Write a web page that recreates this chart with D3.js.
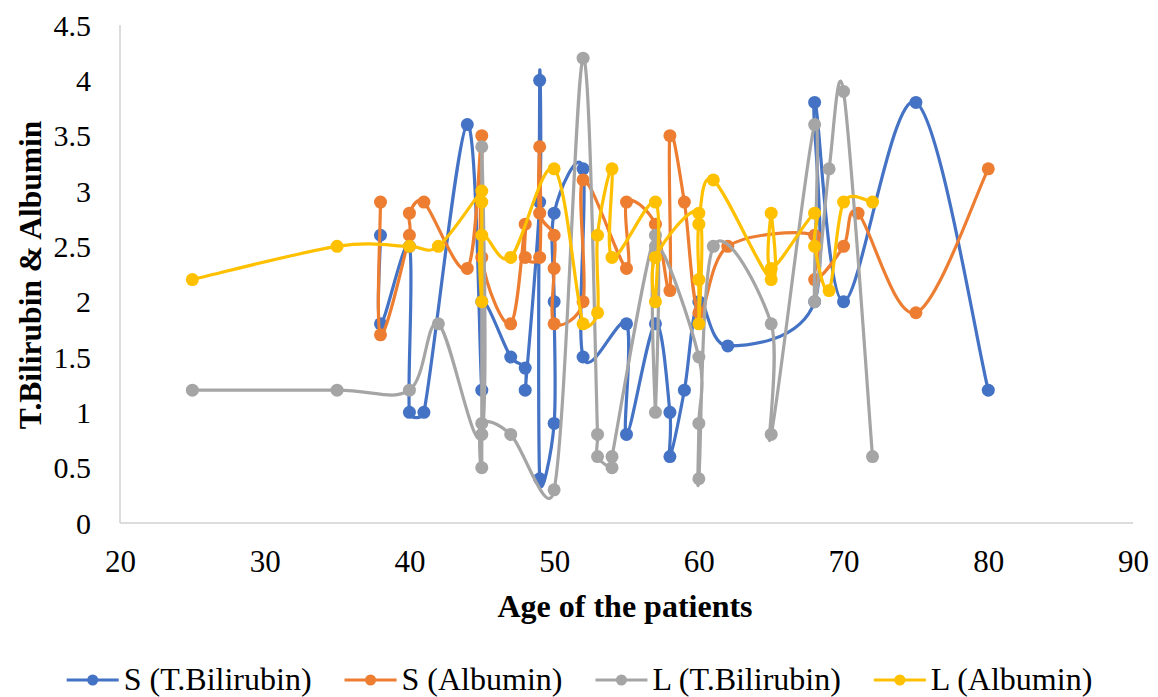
<!DOCTYPE html>
<html>
<head>
<meta charset="utf-8">
<script src="https://cdn.jsdelivr.net/npm/d3@7"></script>
<style>
  html, body { margin: 0; padding: 0; background: #fff; }
  svg { display: block; }
  text { font-family: "Liberation Serif", "Times New Roman", serif; fill: #000; }
</style>
</head>
<body>
<svg id="chart" width="1158" height="697"></svg>
<script>
// Ages and values for each series, in recorded order
const sBiliAge = [38,38,40,40,41,44,45,45,47,48,48,49,49,49,50,50,50,52,52,55,55,57,58,58,59,60,62,68,68,70,75,80];
const sBiliVal = [2.6,1.8,2.5,1.0,1.0,3.6,1.2,2.0,1.5,1.4,1.2,2.9,4.0,0.4,0.9,2.0,2.8,3.2,1.5,1.8,0.8,1.8,1.0,0.6,1.2,2.0,1.6,2.0,3.8,2.0,3.8,1.2];

const sAlbAge = [38,38,40,40,41,44,45,45,47,48,48,49,49,49,50,50,50,52,52,55,55,57,58,58,59,60,62,68,68,70,71,75,80];
const sAlbVal = [2.9,1.7,2.6,2.8,2.9,2.3,3.5,2.4,1.8,2.7,2.4,2.4,3.4,2.8,2.6,2.3,1.8,2.0,3.1,2.3,2.9,2.7,2.1,3.5,2.9,1.9,2.5,2.6,2.2,2.5,2.8,1.9,3.2];

const lBiliAge = [25,35,40,42,45,45,45,45,47,50,52,53,53,54,54,57,57,57,60,60,60,61,65,65,68,68,69,70,72];
const lBiliVal = [1.2,1.2,1.2,1.8,0.8,3.4,0.5,0.9,0.8,0.3,4.2,0.8,0.6,0.5,0.6,2.6,1.0,2.5,1.5,0.9,0.4,2.5,1.8,0.8,3.6,2.0,3.2,3.9,0.6];

const lAlbAge = [25,35,40,42,45,45,45,45,47,50,52,53,53,54,54,57,57,57,60,60,60,60,61,65,65,65,68,68,69,70,72];
const lAlbVal = [2.2,2.5,2.5,2.5,3.0,2.9,2.0,2.6,2.4,3.2,1.8,1.9,2.6,3.2,2.4,2.9,2.0,2.4,2.8,1.8,2.2,2.7,3.1,2.2,2.8,2.3,2.8,2.5,2.1,2.9,2.9];

const seriesNames = ["S (T.Bilirubin)", "S (Albumin)", "L (T.Bilirubin)", "L (Albumin)"];
const seriesColors = ["#4472C4", "#ED7D31", "#A5A5A5", "#FFC000"];
const xTicks = [20,30,40,50,60,70,80,90];
const yTicks = [0,0.5,1,1.5,2,2.5,3,3.5,4,4.5];

const series = [
  { name: seriesNames[0], color: seriesColors[0], pts: sBiliAge.map((a,i)=>[a, sBiliVal[i]]) },
  { name: seriesNames[1], color: seriesColors[1], pts: sAlbAge.map((a,i)=>[a, sAlbVal[i]]) },
  { name: seriesNames[2], color: seriesColors[2], pts: lBiliAge.map((a,i)=>[a, lBiliVal[i]]) },
  { name: seriesNames[3], color: seriesColors[3], pts: lAlbAge.map((a,i)=>[a, lAlbVal[i]]) }
];

// Smoothed spline: Bezier segments with 1/6 neighbour tangents,
// each handle limited to half the length of its own segment.
function SmoothCurve(context) { this._context = context; }
SmoothCurve.prototype = {
  areaStart() {}, areaEnd() {},
  lineStart() { this._p = []; },
  point(x, y) { this._p.push([+x, +y]); },
  lineEnd() {
    const p = this._p, n = p.length, c = this._context;
    if (!n) return;
    c.moveTo(p[0][0], p[0][1]);
    if (n === 1) return;
    const clamp = (v, maxLen) => {
      const l = Math.hypot(v[0], v[1]);
      if (l > maxLen && l > 0) { const k = maxLen / l; return [v[0] * k, v[1] * k]; }
      return v;
    };
    for (let i = 0; i < n - 1; i++) {
      const p0 = p[Math.max(i - 1, 0)], p1 = p[i], p2 = p[i + 1], p3 = p[Math.min(i + 2, n - 1)];
      const seg = Math.hypot(p2[0] - p1[0], p2[1] - p1[1]);
      const t1 = clamp([(p2[0] - p0[0]) / 6, (p2[1] - p0[1]) / 6], seg / 2);
      const t2 = clamp([(p3[0] - p1[0]) / 6, (p3[1] - p1[1]) / 6], seg / 2);
      c.bezierCurveTo(p1[0] + t1[0], p1[1] + t1[1], p2[0] - t2[0], p2[1] - t2[1], p2[0], p2[1]);
    }
  }
};
const curveSmooth = ctx => new SmoothCurve(ctx);

const svg = d3.select("#chart");
const plot = { left: 120, right: 1133, top: 25, bottom: 523 };

const x = d3.scaleLinear().domain([20, 90]).range([plot.left, plot.right]);
const y = d3.scaleLinear().domain([0, 4.5]).range([plot.bottom, plot.top]);

// axis lines
svg.append("line").attr("x1", plot.left).attr("x2", plot.left)
  .attr("y1", plot.top).attr("y2", plot.bottom)
  .attr("stroke", "#d0d0d0").attr("stroke-width", 1.5);
svg.append("line").attr("x1", plot.left).attr("x2", plot.right)
  .attr("y1", plot.bottom).attr("y2", plot.bottom)
  .attr("stroke", "#d0d0d0").attr("stroke-width", 1.5);

// tick labels
const xAxis = d3.axisBottom(x).tickValues(xTicks).tickSize(0).tickPadding(0).tickFormat(d3.format("d"));
const gx = svg.append("g").attr("transform", `translate(0,${plot.bottom})`).call(xAxis);
gx.select(".domain").remove();
gx.selectAll("text").attr("y", 49).attr("dy", null)
  .style("font-size", "31px").style("font-family", "Liberation Serif");

const yAxis = d3.axisLeft(y).tickValues(yTicks).tickSize(0).tickPadding(0).tickFormat(d => String(d));
const gy = svg.append("g").attr("transform", `translate(${plot.left - 29},0)`).call(yAxis);
gy.select(".domain").remove();
gy.selectAll("text").attr("dy", "0.34em")
  .style("font-size", "30px").style("font-family", "Liberation Serif");

// axis titles
svg.append("text").attr("x", 625).attr("y", 617).attr("text-anchor", "middle")
  .style("font-size", "32px").style("font-weight", "bold").text("Age of the patients");
svg.append("text").attr("transform", "translate(41,275) rotate(-90)").attr("text-anchor", "middle")
  .style("font-size", "31.5px").style("font-weight", "bold").text("T.Bilirubin & Albumin");

// smoothed lines with markers
const line = d3.line().x(d => x(d[0])).y(d => y(d[1])).curve(curveSmooth);

series.forEach(s => {
  const g = svg.append("g");
  g.append("path").attr("d", line(s.pts)).attr("fill", "none")
    .attr("stroke", s.color).attr("stroke-width", 3.2).attr("stroke-linejoin", "round");
  g.selectAll("circle").data(s.pts).join("circle")
    .attr("cx", d => x(d[0])).attr("cy", d => y(d[1])).attr("r", 6.5)
    .attr("fill", s.color);
});

// legend
const legend = svg.append("g");
const legY = 680;
let cursor = 0;
series.forEach(s => {
  const g = legend.append("g").attr("transform", `translate(${cursor},0)`);
  g.append("line").attr("x1", 0).attr("x2", 52).attr("y1", legY).attr("y2", legY)
    .attr("stroke", s.color).attr("stroke-width", 3.2);
  g.append("circle").attr("cx", 26).attr("cy", legY).attr("r", 5.5).attr("fill", s.color);
  const t = g.append("text").attr("x", 57).attr("y", legY + 10)
    .style("font-size", "32px").text(s.name);
  const w = t.node().getComputedTextLength();
  cursor += 57 + w + 33;
});
const totalW = cursor - 33;
legend.attr("transform", `translate(${579.5 - totalW / 2},0)`);
</script>
</body>
</html>
